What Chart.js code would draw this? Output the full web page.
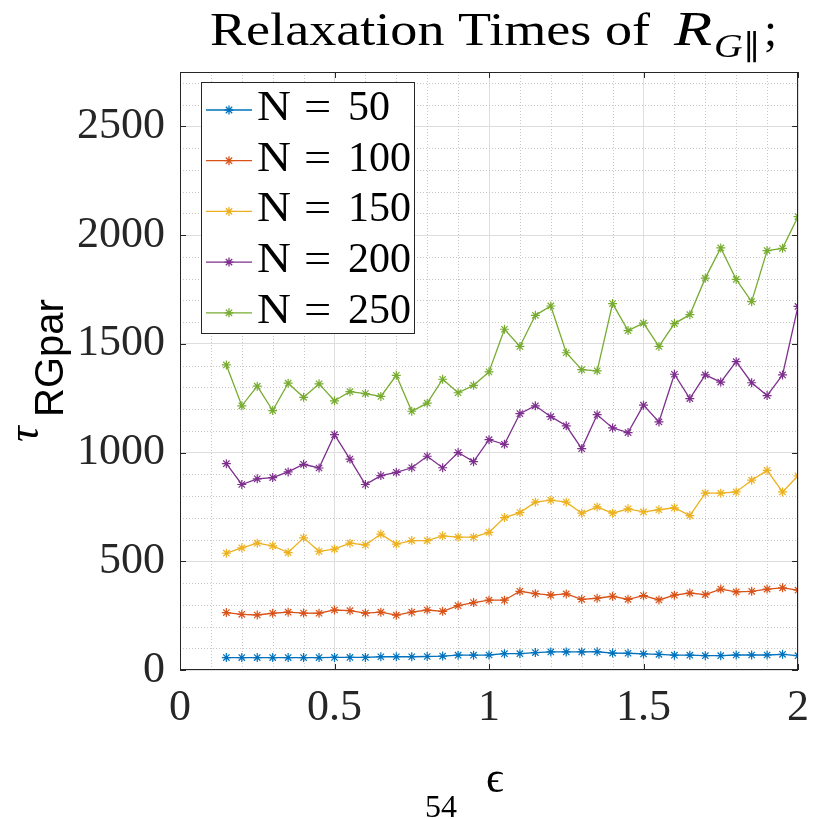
<!DOCTYPE html>
<html>
<head>
<meta charset="utf-8">
<script src="https://cdn.jsdelivr.net/npm/chart.js@4.4.0/dist/chart.umd.min.js"></script>
<style>
  html, body { margin: 0; padding: 0; background: #ffffff; }
  canvas { display: block; }
</style>
</head>
<body>
<canvas id="chart" width="821" height="819"></canvas>
<script>
// Coupling strength values on the horizontal axis
const epsilon = [0.15, 0.20, 0.25, 0.30, 0.35, 0.40, 0.45, 0.50, 0.55, 0.60,
                 0.65, 0.70, 0.75, 0.80, 0.85, 0.90, 0.95, 1.00, 1.05, 1.10,
                 1.15, 1.20, 1.25, 1.30, 1.35, 1.40, 1.45, 1.50, 1.55, 1.60,
                 1.65, 1.70, 1.75, 1.80, 1.85, 1.90, 1.95, 2.00];

// Relaxation times for each system size
const tauN50  = [57, 57, 57, 57, 57, 57, 57, 58, 58, 58,
                 61, 61, 61, 62, 64, 68, 68, 69, 75, 75,
                 80, 83, 83, 83, 84, 78, 77, 74, 72, 68,
                 68, 66, 66, 69, 69, 69, 72, 66];
const tauN100 = [264, 256, 253, 261, 266, 262, 261, 276, 273, 262,
                 266, 252, 266, 276, 270, 296, 310, 321, 321, 362,
                 351, 344, 350, 325, 330, 339, 325, 342, 322, 344,
                 354, 347, 372, 359, 362, 372, 378, 367];
const tauN150 = [537, 562, 583, 571, 540, 608, 546, 556, 583, 575,
                 625, 579, 595, 595, 617, 611, 611, 633, 701, 724,
                 772, 781, 772, 721, 750, 721, 741, 727, 737, 746,
                 710, 813, 813, 819, 873, 918, 819, 893];
const tauN200 = [949, 853, 879, 885, 911, 946, 929, 1082, 970, 853,
                 894, 909, 930, 983, 930, 1000, 958, 1059, 1038, 1179,
                 1215, 1165, 1123, 1018, 1174, 1113, 1092, 1218, 1141, 1360,
                 1248, 1357, 1324, 1418, 1321, 1262, 1357, 1672];
const tauN250 = [1403, 1215, 1305, 1193, 1319, 1254, 1316, 1238, 1280, 1271,
                 1258, 1355, 1190, 1227, 1337, 1275, 1309, 1371, 1567, 1488,
                 1631, 1674, 1459, 1381, 1376, 1685, 1561, 1595, 1488, 1593,
                 1634, 1802, 1941, 1796, 1694, 1929, 1939, 2085];

const systemSizes = ['50', '100', '150', '200', '250'];
const seriesValues = [tauN50, tauN100, tauN150, tauN200, tauN250];
const seriesColors = ['#0072BD', '#D95319', '#EDB120', '#7E2F8E', '#77AC30'];

// Axis ranges and tick positions
const xRange = [0, 2];
const yRange = [0, 2750];
const xTickValues = [0, 0.5, 1, 1.5, 2];
const yTickValues = [0, 500, 1000, 1500, 2000, 2500];
const xMinorStep = 0.1;
const yMinorStep = 100;

const SERIF = '"Liberation Serif", "Times New Roman", "DejaVu Serif", serif';
const SANS = '"Liberation Sans", Arial, "DejaVu Sans", sans-serif';
const INK = '#262626';

const datasets = seriesValues.map((vals, i) => ({
  label: 'N = ' + systemSizes[i],
  data: vals.map((v, k) => ({ x: epsilon[k], y: v })),
  borderColor: seriesColors[i],
  backgroundColor: seriesColors[i],
  pointBorderColor: seriesColors[i],
  pointBackgroundColor: seriesColors[i]
}));

function line(ctx, x1, y1, x2, y2) {
  ctx.beginPath(); ctx.moveTo(x1, y1); ctx.lineTo(x2, y2); ctx.stroke();
}
function isMajor(v, ticks) {
  return ticks.some(t => Math.abs(t - v) < 1e-6);
}
function drawStretched(ctx, text, x, y, sx) {
  ctx.save();
  ctx.translate(x, y);
  ctx.scale(sx, 1);
  ctx.fillText(text, 0, 0);
  ctx.restore();
}

const decorations = {
  id: 'decorations',
  beforeDraw(chart) {
    const ctx = chart.ctx;
    ctx.save();
    ctx.fillStyle = '#ffffff';
    ctx.fillRect(0, 0, chart.width, chart.height);
    ctx.restore();
  },
  beforeDatasetsDraw(chart) {
    // dotted minor grid
    const { ctx, chartArea: a, scales: { x, y } } = chart;
    ctx.save();
    ctx.strokeStyle = '#c8c8c8';
    ctx.lineWidth = 1;
    ctx.setLineDash([1, 2]);
    const nx = Math.round((xRange[1] - xRange[0]) / xMinorStep);
    for (let i = 1; i < nx; i++) {
      const v = xRange[0] + i * xMinorStep;
      if (isMajor(v, xTickValues)) continue;
      const px = Math.round(x.getPixelForValue(v)) + 0.5;
      line(ctx, px, a.top, px, a.bottom);
    }
    const ny = Math.floor((yRange[1] - yRange[0]) / yMinorStep);
    for (let i = 1; i <= ny; i++) {
      const v = yRange[0] + i * yMinorStep;
      if (isMajor(v, yTickValues)) continue;
      const py = Math.round(y.getPixelForValue(v)) + 0.5;
      line(ctx, a.left, py, a.right, py);
    }
    ctx.restore();
  },
  afterDatasetsDraw(chart) {
    const { ctx, chartArea: a, scales: { x, y } } = chart;
    ctx.save();

    // axes box with inward ticks on all four sides
    ctx.strokeStyle = INK;
    ctx.lineWidth = 1;
    ctx.strokeRect(a.left + 0.5, a.top + 0.5, a.right - a.left - 1, a.bottom - a.top - 1);
    const tl = 6;
    xTickValues.forEach(v => {
      const px = Math.round(x.getPixelForValue(v)) + 0.5;
      line(ctx, px, a.bottom, px, a.bottom - tl);
      line(ctx, px, a.top, px, a.top + tl);
    });
    yTickValues.forEach(v => {
      const py = Math.round(y.getPixelForValue(v)) + 0.5;
      line(ctx, a.left, py, a.left + tl, py);
      line(ctx, a.right, py, a.right - tl, py);
    });

    // legend box
    const lx = 201, ly = 82, lw = 213, lh = 251;
    ctx.fillStyle = '#ffffff';
    ctx.fillRect(lx, ly, lw, lh);
    ctx.strokeStyle = INK;
    ctx.strokeRect(lx + 0.5, ly + 0.5, lw, lh);
    chart.data.datasets.forEach((ds, i) => {
      const cy = 110 + i * 50.7;
      ctx.strokeStyle = ds.borderColor;
      ctx.lineWidth = 1.3;
      line(ctx, 206, cy, 252, cy);
      ctx.fillStyle = ds.borderColor;
      Chart.helpers.drawPoint(ctx, { pointStyle: 'star', radius: 4.5, borderWidth: 1.2, rotation: 0 }, 229, cy);
      ctx.fillStyle = '#000000';
      ctx.font = '42px ' + SERIF;
      ctx.textBaseline = 'alphabetic';
      ctx.textAlign = 'left';
      const parts = ds.label.split(' ');
      drawStretched(ctx, parts[0], 257, cy + 10, 1.12);
      drawStretched(ctx, parts[1], 304, cy + 10, 1.15);
      ctx.fillText(parts[2], 348, cy + 10);
    });

    // title
    ctx.fillStyle = '#000000';
    ctx.textAlign = 'left';
    ctx.textBaseline = 'alphabetic';
    ctx.font = '47px ' + SERIF;
    const head = 'Relaxation Times of';
    const sx = 440 / ctx.measureText(head).width;
    drawStretched(ctx, head, 210, 45, sx);
    ctx.font = 'italic 48px ' + SERIF;
    drawStretched(ctx, 'R', 674, 45, 1.3);
    ctx.font = 'italic 33px ' + SERIF;
    drawStretched(ctx, 'G', 714, 57, 1.2);
    ctx.font = '34px ' + SERIF;
    ctx.fillText('\u2225', 744, 59);
    ctx.font = '47px ' + SERIF;
    ctx.fillText(';', 764, 45);

    // y-axis label
    ctx.save();
    ctx.translate(38, 442);
    ctx.rotate(-Math.PI / 2);
    ctx.font = 'italic 44px ' + SERIF;
    ctx.fillText('\u03C4', 0, 0);
    ctx.font = '40px ' + SANS;
    ctx.fillText('RGpar', 25, 25);
    ctx.restore();

    // x-axis label
    ctx.font = '44px ' + SERIF;
    ctx.fillText('\u03F5', 486, 792);
    ctx.font = '32px ' + SERIF;
    ctx.fillText('54', 425, 817);

    ctx.restore();
  }
};

new Chart(document.getElementById('chart'), {
  type: 'line',
  data: { datasets },
  options: {
    responsive: false,
    animation: false,
    devicePixelRatio: 1,
    layout: { padding: { top: 72, right: 13, left: 0, bottom: 0 } },
    plugins: { legend: { display: false }, tooltip: { enabled: false }, title: { display: false } },
    elements: {
      line: { borderWidth: 1.3, tension: 0, fill: false },
      point: { pointStyle: 'star', radius: 4.5, borderWidth: 1.2, hoverRadius: 4.5 }
    },
    scales: {
      x: {
        type: 'linear',
        min: xRange[0], max: xRange[1],
        afterBuildTicks(scale) { scale.ticks = xTickValues.map(v => ({ value: v })); },
        ticks: {
          font: { family: SERIF, size: 44 },
          color: INK,
          padding: 12,
          maxRotation: 0,
          autoSkip: false,
          callback: v => String(v)
        },
        grid: { color: '#dedede', lineWidth: 1, drawTicks: false },
        border: { display: false },
        afterFit(scale) { scale.height = 149; }
      },
      y: {
        type: 'linear',
        min: yRange[0], max: yRange[1],
        afterBuildTicks(scale) { scale.ticks = yTickValues.map(v => ({ value: v })); },
        ticks: {
          font: { family: SERIF, size: 44 },
          color: INK,
          padding: 15,
          autoSkip: false,
          callback: v => String(v)
        },
        grid: { color: '#dedede', lineWidth: 1, drawTicks: false },
        border: { display: false },
        afterFit(scale) { scale.width = 180; }
      }
    }
  },
  plugins: [decorations]
});
</script>
</body>
</html>
